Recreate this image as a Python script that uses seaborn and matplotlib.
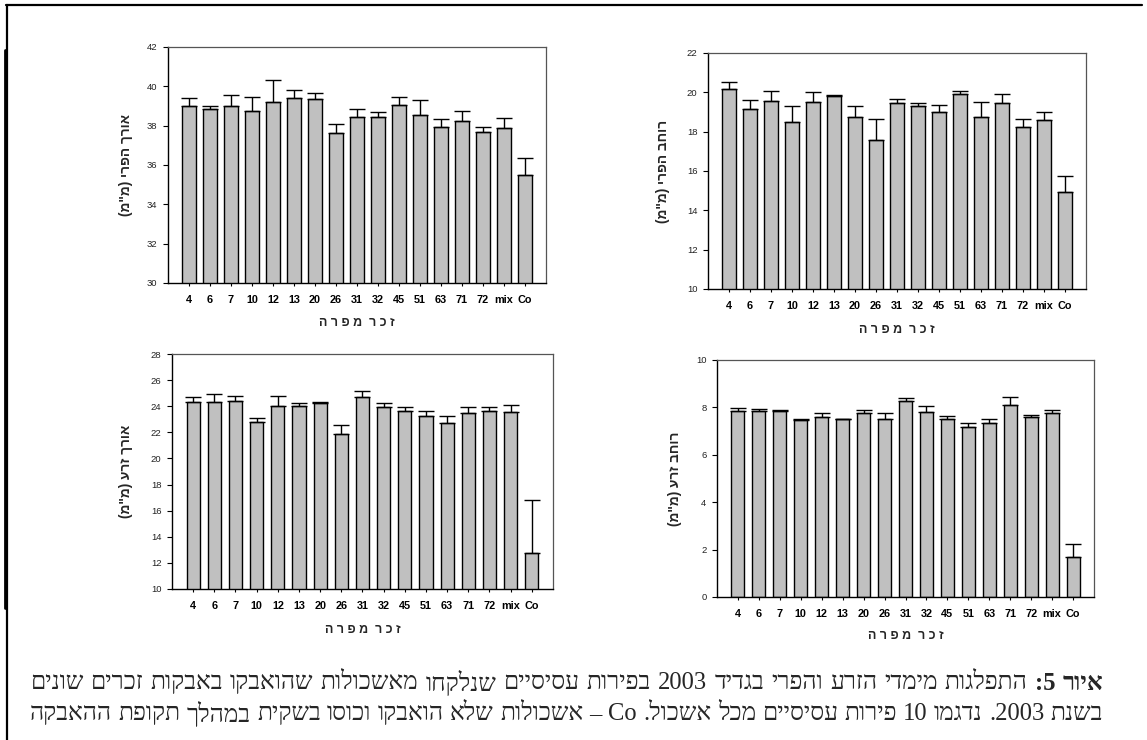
import re
import numpy as np
import pandas as pd
import matplotlib
matplotlib.use("Agg")
import matplotlib.pyplot as plt
from matplotlib.lines import Line2D
import seaborn as sns

# ---------------- data ----------------
categories = ["4", "6", "7", "10", "12", "13", "20", "26", "31", "32", "45", "51", "63", "71", "72", "mix", "Co"]

fruit_length = [39.0, 38.83, 38.98, 38.75, 39.2, 39.4, 39.35, 37.62, 38.44, 38.44, 39.05, 38.55, 37.95, 38.25, 37.7, 37.9, 35.47]
fruit_length_err = [0.43, 0.15, 0.58, 0.7, 1.12, 0.4, 0.3, 0.45, 0.4, 0.25, 0.4, 0.76, 0.4, 0.5, 0.25, 0.48, 0.9]

fruit_width = [20.15, 19.15, 19.57, 18.5, 19.5, 19.83, 18.75, 17.6, 19.44, 19.3, 19.02, 19.93, 18.76, 19.47, 18.25, 18.59, 14.91]
fruit_width_err = [0.37, 0.46, 0.5, 0.78, 0.5, 0.05, 0.54, 1.03, 0.24, 0.15, 0.32, 0.16, 0.73, 0.46, 0.38, 0.41, 0.85]

seed_length = [24.3, 24.32, 24.38, 22.77, 24.05, 24.02, 24.22, 21.85, 24.68, 23.92, 23.66, 23.23, 22.72, 23.46, 23.64, 23.56, 12.75]
seed_length_err = [0.38, 0.6, 0.38, 0.33, 0.73, 0.25, 0.12, 0.74, 0.46, 0.33, 0.26, 0.41, 0.51, 0.48, 0.3, 0.51, 4.03]

seed_width = [7.84, 7.85, 7.85, 7.47, 7.6, 7.49, 7.77, 7.53, 8.28, 7.8, 7.5, 7.19, 7.33, 8.12, 7.61, 7.77, 1.69]
seed_width_err = [0.13, 0.07, 0.04, 0.05, 0.15, 0.02, 0.11, 0.22, 0.11, 0.24, 0.12, 0.14, 0.2, 0.3, 0.09, 0.1, 0.54]

ylabel_fruit_length = 'אורך הפרי (מ"מ)'
ylabel_fruit_width = 'רוחב הפרי (מ"מ)'
ylabel_seed_length = 'אורך זרע (מ"מ)'
ylabel_seed_width = 'רוחב זרע (מ"מ)'
xlabel_text = "זכר מפרה"

caption_bold = "איור 5:"
caption_line1 = "התפלגות מימדי הזרע והפרי בגדיד 2003 בפירות עסיסיים שנלקחו מאשכולות שהואבקו באבקות זכרים שונים"
caption_line2 = "בשנת 2003. נדגמו 10 פירות עסיסיים מכל אשכול. Co – אשכולות שלא הואבקו וכוסו בשקית במהלך תקופת ההאבקה"


def vis(s):
    """Logical Hebrew -> visual (left-to-right) order."""
    r = s[::-1]
    r = r.translate(str.maketrans("()", ")("))
    r = re.sub(r"[A-Za-z0-9]+", lambda m: m.group(0)[::-1], r)
    return r


sns.set_theme(style="white")
plt.rcParams["font.family"] = ["Liberation Sans", "DejaVu Sans"]

W, H = 1147, 740
fig = plt.figure(figsize=(W / 100, H / 100), dpi=100)


def px_rect(left, right, top, bottom):
    return [left / W, 1 - bottom / H, (right - left) / W, (bottom - top) / H]


panels = [
    (px_rect(168, 546, 47, 283), fruit_length, fruit_length_err, (30, 42), ylabel_fruit_length, -0.092, -0.145),
    (px_rect(708, 1086, 53, 289), fruit_width, fruit_width_err, (10, 22), ylabel_fruit_width, -0.100, -0.150),
    (px_rect(172, 553, 354, 589), seed_length, seed_length_err, (10, 28), ylabel_seed_length, -0.102, -0.150),
    (px_rect(717, 1094, 360, 597), seed_width, seed_width_err, (0, 10), ylabel_seed_width, -0.093, -0.140),
]

for rect, vals, errs, ylim, ylab, ylx, xly in panels:
    ax = fig.add_axes(rect)
    df = pd.DataFrame({"male": categories, "value": vals})
    sns.barplot(data=df, x="male", y="value", order=categories, color="#c0c0c0",
                saturation=1, edgecolor="black", linewidth=1.0, width=0.62,
                errorbar=None, ax=ax, zorder=2)
    xs = np.arange(len(categories))
    ax.errorbar(xs, vals, yerr=[np.zeros(len(errs)), errs], fmt="none",
                ecolor="black", elinewidth=1.0, capsize=5.5, capthick=1.0, zorder=3)
    ax.set_xlim(-1, len(categories))
    ax.set_ylim(*ylim)
    ticks = np.arange(ylim[0], ylim[1] + 0.1, 2)
    ax.set_yticks(ticks)
    ax.set_yticklabels([str(int(v)) for v in ticks])
    ax.tick_params(axis="y", direction="out", length=3.6, width=0.8, pad=4,
                   labelsize=6.8, colors="black", labelcolor="#222222", left=True)
    ax.tick_params(axis="x", direction="out", length=2.5, width=0.8, pad=6,
                   labelsize=7.8, colors="black", bottom=True)
    for lab in ax.get_xticklabels():
        lab.set_fontweight("bold")
    for side in ["left", "bottom"]:
        ax.spines[side].set_color("black")
        ax.spines[side].set_linewidth(1.0)
    for side in ["top", "right"]:
        ax.spines[side].set_color("#555555")
        ax.spines[side].set_linewidth(0.9)
    ax.set_ylabel(vis(ylab), fontsize=9.8, fontweight="bold")
    ax.yaxis.set_label_coords(ylx, 0.5)
    ax.set_xlabel(" ".join(vis(xlabel_text)).replace("   ", "  "), fontsize=9.0, fontweight="bold")
    ax.xaxis.set_label_coords(0.5, xly)

# document frame lines
fig.add_artist(Line2D([6 / W, 1142 / W], [1 - 5 / H, 1 - 5 / H], color="black", lw=1.6, transform=fig.transFigure))
fig.add_artist(Line2D([7 / W, 7 / W], [1 - 5 / H, 0], color="black", lw=1.6, transform=fig.transFigure))
fig.add_artist(Line2D([4.5 / W, 4.5 / W], [1 - 50 / H, 1 - 608 / H], color="black", lw=2.0, transform=fig.transFigure))

# caption, justified between x=30 and x=1103
fig.canvas.draw()
renderer = fig.canvas.get_renderer()
cap_left, cap_right = 30, 1103
cap_family = ["Liberation Serif", "DejaVu Serif"]


def measure(words, bold_flags, size):
    tot = 0.0
    for w, b in zip(words, bold_flags):
        t = fig.text(0, 0, w, fontsize=size, family=cap_family, fontweight="bold" if b else "normal")
        tot += t.get_window_extent(renderer=renderer).width
        t.remove()
    return tot


l1_words = vis(caption_line1).split(" ")
bold_words = vis(caption_bold).split(" ")
line1 = l1_words + bold_words
flags1 = [False] * len(l1_words) + [True] * len(bold_words)
line2 = vis(caption_line2).split(" ")
flags2 = [False] * len(line2)

s0 = 12.0
avail = cap_right - cap_left
sizes = []
for words, flags in [(line1, flags1), (line2, flags2)]:
    tot = measure(words, flags, s0)
    space_per_pt = 0.25 * 100 / 72
    # size s such that tot*s/s0 + (n-1)*space*s = avail
    sizes.append(avail / (tot / s0 + (len(words) - 1) * space_per_pt))
cap_size = min(sizes)


def justify_line(words, y_px, bold_flags):
    texts, widths = [], []
    for w, b in zip(words, bold_flags):
        t = fig.text(0, 1 - y_px / H, w, fontsize=cap_size, family=cap_family,
                     fontweight="bold" if b else "normal", ha="left", va="center")
        texts.append(t)
        widths.append(t.get_window_extent(renderer=renderer).width)
    gap = (avail - sum(widths)) / (len(words) - 1)
    x = cap_left
    for t, wd in zip(texts, widths):
        t.set_x(x / W)
        x += wd + gap


justify_line(line1, 683, flags1)
justify_line(line2, 714, flags2)

fig.savefig("out.png", dpi=100)
